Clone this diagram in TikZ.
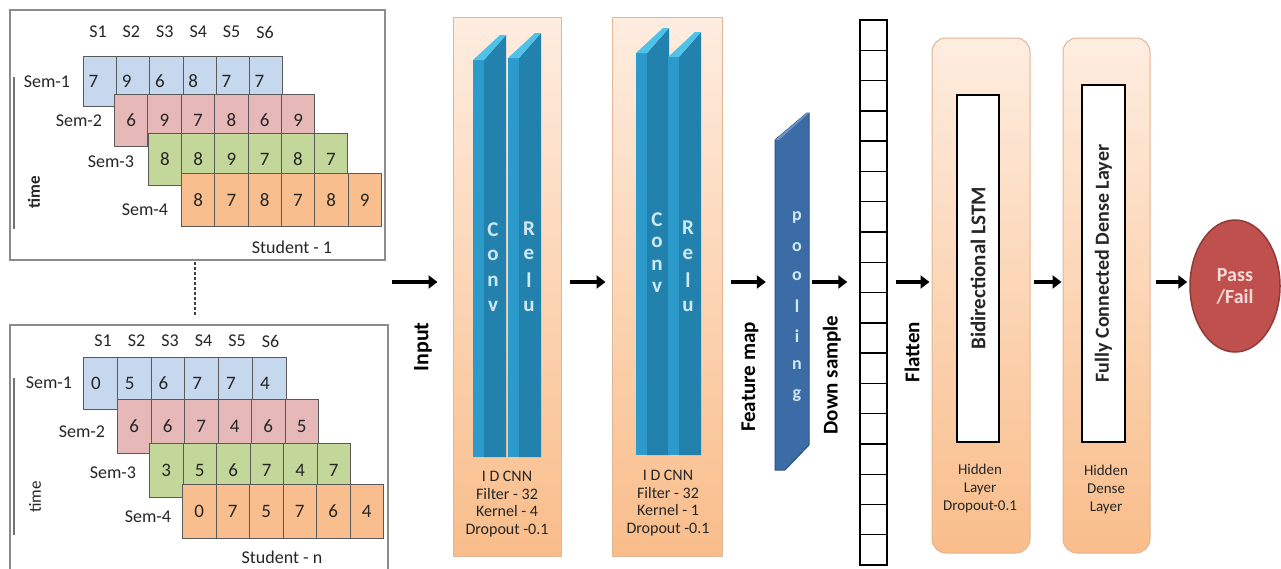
\documentclass[tikz,border=0pt]{standalone}
\usepackage{fontspec}
\setmainfont{Carlito}
\usetikzlibrary{arrows.meta,shapes.geometric,calc}
\definecolor{cblue}{HTML}{C6D8EE}
\definecolor{cpink}{HTML}{E6B8B7}
\definecolor{cgreen}{HTML}{C4D79B}
\definecolor{corange}{HTML}{F9BE8E}
\definecolor{cellline}{HTML}{5A5A5A}
\definecolor{panelline}{HTML}{8C8C8C}
\definecolor{boxtop}{HTML}{FEEDE0}
\definecolor{boxbot}{HTML}{F9BD8A}
\definecolor{boxline}{HTML}{E2B594}
\definecolor{slabfront}{HTML}{2C9BCB}
\definecolor{slabside}{HTML}{2381AD}
\definecolor{slabtop}{HTML}{4FC2EA}
\definecolor{slabtext}{HTML}{CFEAF6}
\definecolor{poolfill}{HTML}{3C6CA6}
\definecolor{poolline}{HTML}{2B5283}
\definecolor{pooltop}{HTML}{6A93C6}
\definecolor{outfill}{HTML}{C0504D}
\definecolor{outline}{HTML}{8E3B39}
\definecolor{outtext}{HTML}{F8DCDA}
\definecolor{txt}{HTML}{262626}
\newcommand{\myfs}[1]{\fontsize{#1}{#1}\selectfont}
% #1 x, #2 y top, #3 height, #4 cell width, #5 fill, #6 digits, #7 text shift, #8 name
\newcommand{\semrow}[8]{%
  \foreach \d [count=\i from 0] in {#6} {
    \node[cell, fill=#5, minimum width=#4, minimum height=#3] (#8-\i) at ({#1+#4*\i},#2) {\d\hspace*{#7pt}};
  }}
% #1 x0, #2 y front top, #3 y bottom
\newcommand{\slab}[3]{%
  \fill[slabside] (#1+11,#2) -- (#1+33,#2-25) -- (#1+33,#3) -- (#1+11,#3) -- cycle;
  \fill[slabfront] (#1,#2) rectangle (#1+11,#3);
  \fill[slabtop] (#1,#2) -- (#1+27,#2-25) -- (#1+33,#2-25) -- (#1+11,#2) -- cycle;
}
% #1 x, #2 y0, #3 step, #4 letters, #5 style
\newcommand{\vword}[5]{%
  \foreach \c [count=\k from 0] in {#4} {\node[#5] at (#1,{#2+#3*\k}) {\c};}}
\tikzset{
  cell/.style={draw=cellline, line width=0.9pt, inner sep=0pt, anchor=north west, font=\myfs{19}, text=txt},
  hdr/.style={font=\myfs{18}, text=txt, inner sep=0pt},
  semlbl/.style={font=\myfs{18}, text=txt, inner sep=0pt},
  panel/.style={draw=panelline, line width=1.4pt},
  timeline/.style={draw=black!55, line width=1.4pt},
  timelbl/.style={font=\myfs{17}, text=txt, rotate=90, inner sep=0pt},
  cnnbox/.style={draw=boxline, line width=1pt, top color=boxtop, bottom color=boxbot, inner sep=0pt},
  roundbox/.style={draw=boxline, line width=1pt, rounded corners=14pt, top color=boxtop, bottom color=boxbot, inner sep=0pt},
  innerbox/.style={draw=black, line width=1.2pt, fill=white, rotate=90, inner sep=0pt, font=\bfseries\myfs{21}, text=txt},
  slabletter/.style={font=\bfseries\myfs{21}, text=slabtext, inner sep=0pt},
  poolletter/.style={font=\bfseries\myfs{18}, text=slabtext, inner sep=0pt},
  rotlbl/.style={font=\bfseries\myfs{21}, text=black, rotate=90, inner sep=0pt},
  small/.style={font=\myfs{16}, text=txt, align=center, inner sep=0pt},
  smaller/.style={font=\myfs{15}, text=txt, align=center, inner sep=0pt},
  arr/.style={line width=4pt, -{Triangle[length=9pt,width=13pt]}}
}
\begin{document}
\begin{tikzpicture}[x=1pt,y=-1pt]
\useasboundingbox (0,0) rectangle (1281,568);
\fill[white] (0,0) rectangle (1281,568);

%% ---------- top panel (Student - 1)
\draw[panel] (10,10) rectangle (385,260);
\foreach \s [count=\i from 0] in {S1,S2,S3,S4,S5,S6}
  \node[hdr] (h1-\i) at ({98+33.4*\i},32) {\s};
\semrow{83}{56}{50}{33.2}{cblue}{7,9,6,8,7,7}{13}{a1}
\semrow{114}{94}{52}{33.4}{cpink}{6,9,7,8,6,9}{0}{a2}
\semrow{148}{133}{52}{33.2}{cgreen}{8,8,9,7,8,7}{0}{a3}
\semrow{181}{173}{53}{33.3}{corange}{8,7,8,7,8,9}{0}{a4}
\node[semlbl] (s11) at (47,82) {Sem-1};
\node[semlbl] (s12) at (79,121) {Sem-2};
\node[semlbl] (s13) at (111,162) {Sem-3};
\node[semlbl] (s14) at (145,210) {Sem-4};
\draw[timeline] (14,77) -- (14,229);
\node[timelbl, font=\bfseries\myfs{17}] (t1) at (34,192) {time};
\node[semlbl] (st1) at (292,247) {Student - 1};

%% dashed link
\coordinate (d1) at (195,262);
\coordinate (d2) at (195,315);
\draw[black!75, line width=1.5pt, dash pattern=on 3pt off 2pt] (d1) -- (d2);

%% ---------- bottom panel (Student - n)
\draw[panel] (10,580) -- (10,325) -- (388,325) -- (388,580);
\foreach \s [count=\i from 0] in {S1,S2,S3,S4,S5,S6}
  \node[hdr] (h2-\i) at ({103+33.5*\i},341) {\s};
\semrow{83}{357}{52}{33.8}{cblue}{0,5,6,7,7,4}{9}{b1}
\semrow{117}{399}{54}{33.5}{cpink}{6,6,7,4,6,5}{0}{b2}
\semrow{149}{443}{54}{33.5}{cgreen}{3,5,6,7,4,7}{0}{b3}
\semrow{182}{484}{54}{33.5}{corange}{0,7,5,7,6,4}{0}{b4}
\node[semlbl] (s21) at (49,383) {Sem-1};
\node[semlbl] (s22) at (82,432) {Sem-2};
\node[semlbl] (s23) at (113,473) {Sem-3};
\node[semlbl] (s24) at (148,517) {Sem-4};
\draw[timeline] (14,378) -- (14,535);
\node[timelbl] (t2) at (35,497) {time};
\node[semlbl] (st2) at (282,557) {Student - n};

%% ---------- CNN blocks
\node[cnnbox, minimum width=108, minimum height=539] (cnn1) at (507,286.5) {};
\node[cnnbox, minimum width=110, minimum height=539] (cnn2) at (667,286.5) {};
\slab{473}{60}{457}
\slab{508}{58}{457}
\slab{636}{53}{455}
\slab{668}{57}{455}
\vword{493}{230}{25.5}{C,o,n,v}{slabletter}
\vword{529}{229}{25.7}{R,e,l,u}{slabletter}
\vword{657}{220}{22.5}{C,o,n,v}{slabletter}
\vword{688}{228}{26}{R,e,l,u}{slabletter}
\node[small] (c1t) at (507,504) {I D CNN\\[1.5pt]Filter - 32\\[1.5pt]Kernel - 4\\[1.5pt]Dropout -0.1};
\node[small] (c2t) at (668,503) {I D CNN\\[1.5pt]Filter - 32\\[1.5pt]Kernel - 1\\[1.5pt]Dropout -0.1};

%% ---------- pooling
\node[minimum width=34, minimum height=357, inner sep=0pt] (pool) at (792,291.5) {};
\draw[fill=poolfill, draw=poolline, line width=1pt]
  (775,140) -- (807,113) -- (809,113) -- (809,445) -- (785,470) -- (775,470) -- cycle;
\fill[pooltop] (775,140) -- (807,113) -- (809,113) -- (779,140) -- cycle;
\vword{797}{217}{29.7}{p,o,o,l,i,n,g}{poolletter}

%% ---------- flatten vector
\node[draw=black, line width=1.4pt, minimum width=27, minimum height=545, inner sep=0pt] (flat) at (873.5,292.5) {};
\foreach \j in {1,...,17}
  \draw[black, line width=1.4pt] (860,{20+30.28*\j}) -- (887,{20+30.28*\j});

%% ---------- LSTM / dense
\node[roundbox, minimum width=98, minimum height=515] (lstm) at (981,295.5) {};
\node[roundbox, minimum width=87, minimum height=515] (dense) at (1106.5,295.5) {};
\node[innerbox, minimum width=347, minimum height=42] (lstmin) at (978,268.5) {Bidirectional LSTM};
\node[innerbox, minimum width=357, minimum height=43, font=\bfseries\myfs{20}] (densein) at (1103.5,263.5) {Fully Connected Dense Layer};
\node[smaller] (lt) at (980,488) {Hidden\\[3pt]Layer\\[3pt]Dropout-0.1};
\node[smaller] (dt) at (1106,489) {Hidden\\[3pt]Dense\\[3pt]Layer};

%% ---------- output
\node[ellipse, fill=outfill, draw=outline, line width=1.5pt, minimum width=90, minimum height=132, inner sep=0pt,
      font=\bfseries\myfs{20}, text=outtext, align=center] (out) at (1235,286) {Pass\\[2pt]/Fail};

%% ---------- labels
\node[rotlbl, font=\bfseries\myfs{22}] (inlbl) at (423,347) {Input};
\node[rotlbl] (fmlbl) at (750,377) {Feature map};
\node[rotlbl] (dslbl) at (832,375) {Down sample};
\node[rotlbl] (fllbl) at (912,352) {Flatten};

%% ---------- arrows
\coordinate (ay) at (0,282);
\coordinate (in0) at (392,282);
\draw[arr, shorten >=15pt] (in0) -- (cnn1.west |- ay);
\draw[arr, shorten <=8pt, shorten >=6pt] (cnn1.east |- ay) -- (cnn2.west |- ay);
\draw[arr, shorten <=8pt, shorten >=9pt] (cnn2.east |- ay) -- (pool.west |- ay);
\draw[arr, shorten <=3pt, shorten >=12pt] (pool.east |- ay) -- (flat.west |- ay);
\draw[arr, shorten <=8pt, shorten >=2pt] (flat.east |- ay) -- (lstm.west |- ay);
\draw[arr, shorten <=3pt, shorten >=1pt] (lstm.east |- ay) -- (dense.west |- ay);
\draw[arr, shorten <=5pt, shorten >=2pt] (dense.east |- ay) -- (out.west |- ay);
\end{tikzpicture}
\end{document}
